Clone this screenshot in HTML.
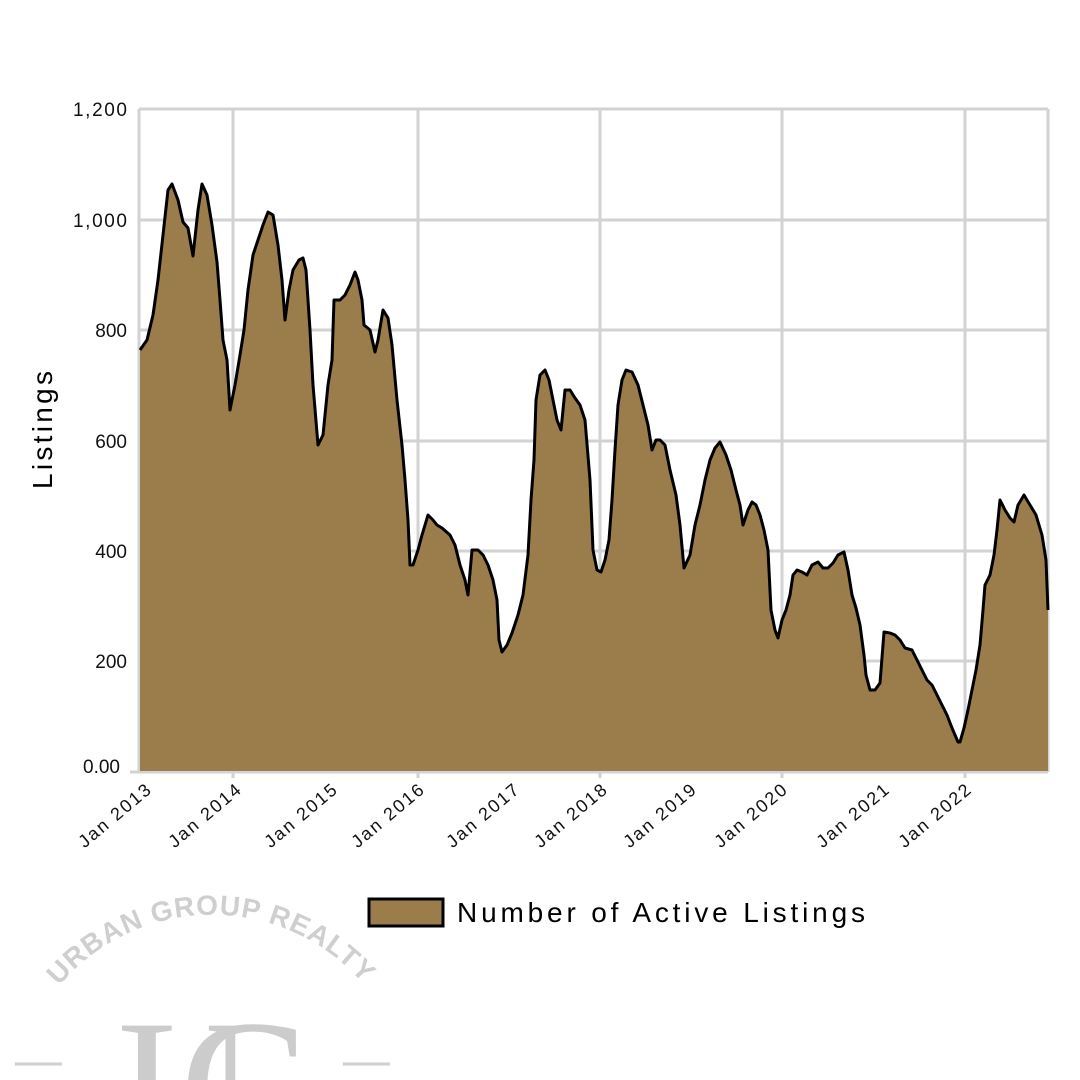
<!DOCTYPE html>
<html><head><meta charset="utf-8"><style>
html,body{margin:0;background:#fff;width:1080px;height:1080px;overflow:hidden;}
svg{display:block;font-family:"Liberation Sans",sans-serif;}
</style></head><body>
<svg width="1080" height="1080" viewBox="0 0 1080 1080" xmlns="http://www.w3.org/2000/svg">
<rect width="1080" height="1080" fill="#fff"/>
<g stroke="#d2d2d2" stroke-width="3" fill="none">
<line x1="139" y1="109" x2="1048" y2="109"/>
<line x1="139" y1="220" x2="1048" y2="220"/>
<line x1="139" y1="330" x2="1048" y2="330"/>
<line x1="139" y1="441" x2="1048" y2="441"/>
<line x1="139" y1="551" x2="1048" y2="551"/>
<line x1="139" y1="661" x2="1048" y2="661"/>
<line x1="139" y1="109" x2="139" y2="772"/>
<line x1="233" y1="109" x2="233" y2="778"/>
<line x1="418" y1="109" x2="418" y2="778"/>
<line x1="600" y1="109" x2="600" y2="778"/>
<line x1="782" y1="109" x2="782" y2="778"/>
<line x1="965" y1="109" x2="965" y2="778"/>
<line x1="1048" y1="109" x2="1048" y2="772"/>
<line x1="130" y1="772" x2="1048" y2="772"/>
</g>
<defs><path id="d" d="M140,350 L147,340 L153,315 L158,280 L163,235 L168,190 L172,184 L178,200 L183,222 L188,228 L193,256 L198,210 L202,184 L207,195 L212,225 L217,262 L220,300 L223,340 L227,360 L230,410 L235,385 L240,355 L244,330 L248,290 L253,255 L258,240 L263,225 L268,212 L273,215 L278,245 L282,280 L285,320 L289,290 L293,270 L299,260 L303,258 L306,270 L310,330 L313,385 L318,445 L323,435 L328,385 L332,360 L334,300 L340,300 L345,295 L350,285 L355,272 L358,280 L362,300 L364,325 L370,330 L375,352 L378,340 L383,310 L388,318 L392,345 L397,400 L402,445 L405,480 L408,520 L410,565 L413,565 L418,550 L422,535 L428,515 L433,520 L437,525 L442,528 L450,535 L455,545 L460,565 L465,580 L468,595 L472,550 L478,550 L483,555 L488,565 L493,580 L497,600 L499,640 L502,652 L507,645 L512,633 L518,615 L523,595 L528,555 L531,500 L534,460 L536,400 L540,375 L545,370 L549,380 L553,400 L557,420 L561,430 L565,390 L570,390 L575,398 L580,405 L585,420 L590,480 L593,550 L597,570 L601,572 L605,560 L609,540 L612,500 L615,450 L618,405 L622,380 L626,370 L632,372 L638,385 L643,405 L648,425 L652,450 L656,440 L660,440 L665,445 L670,470 L676,495 L680,525 L684,568 L690,555 L695,525 L700,505 L705,480 L710,460 L715,448 L720,442 L726,455 L731,470 L736,490 L740,505 L743,525 L748,510 L752,502 L756,505 L760,515 L764,530 L768,550 L771,610 L775,630 L778,638 L782,620 L786,610 L790,595 L793,575 L797,570 L802,572 L807,575 L812,565 L818,562 L823,568 L828,568 L833,563 L838,555 L844,552 L848,570 L852,595 L856,608 L860,625 L864,655 L866,675 L870,690 L875,690 L880,683 L884,632 L890,633 L895,635 L900,640 L905,648 L912,650 L917,660 L922,670 L927,680 L932,685 L937,695 L942,705 L947,715 L952,728 L958,742 L960,742 L964,728 L968,710 L972,690 L976,670 L980,645 L983,610 L985,585 L990,575 L994,555 L997,530 L1000,500 L1005,510 L1010,518 L1014,522 L1018,505 L1024,495 L1030,505 L1036,515 L1042,535 L1046,560 L1048,610"/></defs>
<path fill="#9a7d4b" stroke="none" d="M140,771 L140,350 L147,340 L153,315 L158,280 L163,235 L168,190 L172,184 L178,200 L183,222 L188,228 L193,256 L198,210 L202,184 L207,195 L212,225 L217,262 L220,300 L223,340 L227,360 L230,410 L235,385 L240,355 L244,330 L248,290 L253,255 L258,240 L263,225 L268,212 L273,215 L278,245 L282,280 L285,320 L289,290 L293,270 L299,260 L303,258 L306,270 L310,330 L313,385 L318,445 L323,435 L328,385 L332,360 L334,300 L340,300 L345,295 L350,285 L355,272 L358,280 L362,300 L364,325 L370,330 L375,352 L378,340 L383,310 L388,318 L392,345 L397,400 L402,445 L405,480 L408,520 L410,565 L413,565 L418,550 L422,535 L428,515 L433,520 L437,525 L442,528 L450,535 L455,545 L460,565 L465,580 L468,595 L472,550 L478,550 L483,555 L488,565 L493,580 L497,600 L499,640 L502,652 L507,645 L512,633 L518,615 L523,595 L528,555 L531,500 L534,460 L536,400 L540,375 L545,370 L549,380 L553,400 L557,420 L561,430 L565,390 L570,390 L575,398 L580,405 L585,420 L590,480 L593,550 L597,570 L601,572 L605,560 L609,540 L612,500 L615,450 L618,405 L622,380 L626,370 L632,372 L638,385 L643,405 L648,425 L652,450 L656,440 L660,440 L665,445 L670,470 L676,495 L680,525 L684,568 L690,555 L695,525 L700,505 L705,480 L710,460 L715,448 L720,442 L726,455 L731,470 L736,490 L740,505 L743,525 L748,510 L752,502 L756,505 L760,515 L764,530 L768,550 L771,610 L775,630 L778,638 L782,620 L786,610 L790,595 L793,575 L797,570 L802,572 L807,575 L812,565 L818,562 L823,568 L828,568 L833,563 L838,555 L844,552 L848,570 L852,595 L856,608 L860,625 L864,655 L866,675 L870,690 L875,690 L880,683 L884,632 L890,633 L895,635 L900,640 L905,648 L912,650 L917,660 L922,670 L927,680 L932,685 L937,695 L942,705 L947,715 L952,728 L958,742 L960,742 L964,728 L968,710 L972,690 L976,670 L980,645 L983,610 L985,585 L990,575 L994,555 L997,530 L1000,500 L1005,510 L1010,518 L1014,522 L1018,505 L1024,495 L1030,505 L1036,515 L1042,535 L1046,560 L1048,610 L1048,771 Z"/>
<use href="#d" fill="none" stroke="#000" stroke-width="3" stroke-linejoin="round"/>
<g font-size="19" fill="#111" text-anchor="end">
<text x="127" y="116" textLength="54">1,200</text>
<text x="127" y="227" textLength="54">1,000</text>
<text x="127" y="337">800</text>
<text x="127" y="448">600</text>
<text x="127" y="558">400</text>
<text x="127" y="668">200</text>
<text x="120" y="773">0.00</text>
</g>
<text transform="translate(52,430) rotate(-90)" font-size="28" text-anchor="middle" fill="#000" textLength="118">Listings</text>
<g font-size="18" fill="#111" text-anchor="end">
<text transform="translate(152,792) rotate(-40)" textLength="88">Jan 2013</text>
<text transform="translate(242,792) rotate(-40)" textLength="88">Jan 2014</text>
<text transform="translate(338,792) rotate(-40)" textLength="88">Jan 2015</text>
<text transform="translate(425,792) rotate(-40)" textLength="88">Jan 2016</text>
<text transform="translate(520,792) rotate(-40)" textLength="88">Jan 2017</text>
<text transform="translate(608,792) rotate(-40)" textLength="88">Jan 2018</text>
<text transform="translate(697,792) rotate(-40)" textLength="88">Jan 2019</text>
<text transform="translate(788,792) rotate(-40)" textLength="88">Jan 2020</text>
<text transform="translate(890,792) rotate(-40)" textLength="88">Jan 2021</text>
<text transform="translate(972,792) rotate(-40)" textLength="88">Jan 2022</text>
</g>
<rect x="369" y="899" width="74" height="27" fill="#9a7d4b" stroke="#000" stroke-width="3"/>
<text x="457" y="922" font-size="28" fill="#000" textLength="408">Number of Active Listings</text>
<defs><path id="arc" d="M59,986 A200,200 0 0 1 365,986"/></defs>
<text font-size="28" font-weight="bold" fill="#cfcfcf"><textPath href="#arc" textLength="345" lengthAdjust="spacing">URBAN GROUP REALTY</textPath></text>
<text x="118" y="1150" font-family="Liberation Serif,serif" font-size="190" fill="#cccccc">U</text>
<text x="180" y="1150" font-family="Liberation Serif,serif" font-size="190" fill="#cccccc">G</text>
<line x1="15" y1="1064" x2="62" y2="1064" stroke="#cfcfcf" stroke-width="3"/>
<line x1="343" y1="1064" x2="390" y2="1064" stroke="#cfcfcf" stroke-width="3"/>
</svg>
</body></html>
